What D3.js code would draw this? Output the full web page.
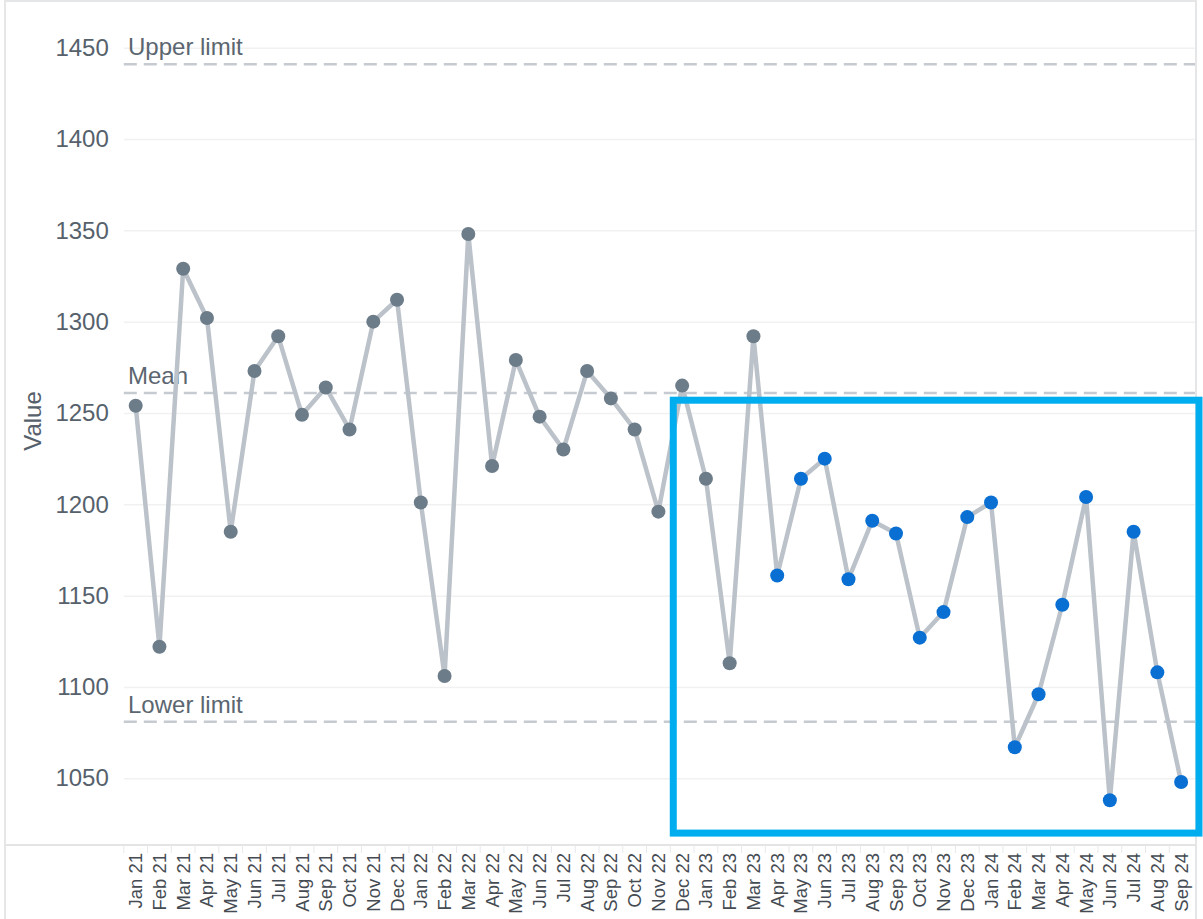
<!DOCTYPE html>
<html>
<head>
<meta charset="utf-8">
<script src="https://cdn.jsdelivr.net/npm/d3@7"></script>
<style>
  body { margin: 0; background: #fff; }
  svg { display: block; font-family: "Liberation Sans", Arial, sans-serif; }
</style>
</head>
<body>
<svg id="chart" width="1203" height="919"></svg>
<script>
// months, Jan 21 .. Sep 24
var months = ["Jan 21","Feb 21","Mar 21","Apr 21","May 21","Jun 21","Jul 21","Aug 21","Sep 21","Oct 21","Nov 21","Dec 21",
              "Jan 22","Feb 22","Mar 22","Apr 22","May 22","Jun 22","Jul 22","Aug 22","Sep 22","Oct 22","Nov 22","Dec 22",
              "Jan 23","Feb 23","Mar 23","Apr 23","May 23","Jun 23","Jul 23","Aug 23","Sep 23","Oct 23","Nov 23","Dec 23",
              "Jan 24","Feb 24","Mar 24","Apr 24","May 24","Jun 24","Jul 24","Aug 24","Sep 24"];

var values = [1254, 1122, 1329, 1302, 1185, 1273, 1292, 1249, 1264, 1241, 1300, 1312,
              1201, 1106, 1348, 1221, 1279, 1248, 1230, 1273, 1258, 1241, 1196, 1265,
              1214, 1113, 1292, 1161, 1214, 1225, 1159, 1191, 1184, 1127, 1141, 1193,
              1201, 1067, 1096, 1145, 1204, 1038, 1185, 1108, 1048];

// from Apr 23 on the points are highlighted
var highlightFrom = "Apr 23";

var yTicks = [1050, 1100, 1150, 1200, 1250, 1300, 1350, 1400, 1450];

var refNames = ["Upper limit", "Mean", "Lower limit"];
var refValues = [1441, 1261, 1081];

// highlighted region: first month and value span
var boxMonth = "Dec 22";
var boxValues = [1257, 1020];

var svg = d3.select("#chart");

var plot = {left: 123.8, right: 1193, top: 0, bottom: 845};

var x = d3.scalePoint()
    .domain(months)
    .range([plot.left, plot.right])
    .padding(0.5);

var y = d3.scaleLinear()
    .domain([1050, 1450])
    .range([778.3, 47.7]);

var step = x.step();

// panel frame
svg.append("rect")
    .attr("x", 5).attr("y", 1)
    .attr("width", 1191).attr("height", 930)
    .attr("fill", "none")
    .attr("stroke", "#e4e6e8")
    .attr("stroke-width", 2);

// grid + y labels
var yAxis = svg.append("g")
    .attr("transform", "translate(" + plot.left + ",0)")
    .call(d3.axisLeft(y).tickValues(yTicks).tickSize(-(plot.right + 2 - plot.left)).tickPadding(15).tickFormat(d3.format("d")));
yAxis.select(".domain").remove();
yAxis.selectAll(".tick line").attr("stroke", "#f1f1f1").attr("stroke-width", 1.5);
yAxis.selectAll(".tick text")
    .attr("fill", "#56616c")
    .attr("font-size", 24)
    .attr("font-family", "Liberation Sans, Arial, sans-serif");

svg.append("text")
    .attr("transform", "translate(41,421) rotate(-90)")
    .attr("text-anchor", "middle")
    .attr("fill", "#56616c")
    .attr("font-size", 24)
    .text("Value");

// x axis line and band ticks
svg.append("line")
    .attr("x1", 5).attr("x2", 1196)
    .attr("y1", plot.bottom).attr("y2", plot.bottom)
    .attr("stroke", "#e2e4e6").attr("stroke-width", 2);

svg.append("g").selectAll("line")
    .data(months)
    .join("line")
    .attr("x1", function(d) { return x(d) - step / 2; })
    .attr("x2", function(d) { return x(d) - step / 2; })
    .attr("y1", plot.bottom).attr("y2", plot.bottom + 8)
    .attr("stroke", "#e6e8ea");

svg.append("g").selectAll("text")
    .data(months)
    .join("text")
    .attr("transform", function(d) { return "translate(" + (x(d) + 6.5) + "," + (plot.bottom + 8) + ") rotate(-90)"; })
    .attr("text-anchor", "end")
    .attr("fill", "#454b52")
    .attr("font-size", 18.5)
    .text(function(d) { return d; });

// reference lines
var refs = refNames.map(function(n, i) { return {name: n, value: refValues[i]}; });
var refG = svg.append("g");
refG.selectAll("line")
    .data(refs)
    .join("line")
    .attr("x1", plot.left).attr("x2", plot.right + 2)
    .attr("y1", function(d) { return y(d.value); })
    .attr("y2", function(d) { return y(d.value); })
    .attr("stroke", "#c6cad1")
    .attr("stroke-width", 2.5)
    .attr("stroke-dasharray", "13,7");
refG.selectAll("text")
    .data(refs)
    .join("text")
    .attr("x", 128)
    .attr("y", function(d) { return y(d.value) - 9; })
    .attr("fill", "#5b6670")
    .attr("font-size", 24)
    .text(function(d) { return d.name; });

// series
var data = months.map(function(m, i) { return {month: m, value: values[i]}; });
var hiIdx = months.indexOf(highlightFrom);

svg.append("path")
    .datum(data)
    .attr("fill", "none")
    .attr("stroke", "#bcc2c9")
    .attr("stroke-width", 4.5)
    .attr("stroke-linejoin", "round")
    .attr("d", d3.line().x(function(d) { return x(d.month); }).y(function(d) { return y(d.value); }));

svg.append("g").selectAll("circle")
    .data(data)
    .join("circle")
    .attr("cx", function(d) { return x(d.month); })
    .attr("cy", function(d) { return y(d.value); })
    .attr("r", 7)
    .attr("fill", function(d, i) { return i >= hiIdx ? "#0a6fd2" : "#6d7c89"; });

// highlight box, starts just past the Nov/Dec 22 boundary
var boxLeft = x(boxMonth) - step / 2 + 3;
svg.append("rect")
    .attr("x", boxLeft)
    .attr("y", y(boxValues[0]))
    .attr("width", 1199 - boxLeft)
    .attr("height", y(boxValues[1]) - y(boxValues[0]))
    .attr("fill", "none")
    .attr("stroke", "#00aeef")
    .attr("stroke-width", 7);
</script>
</body>
</html>
